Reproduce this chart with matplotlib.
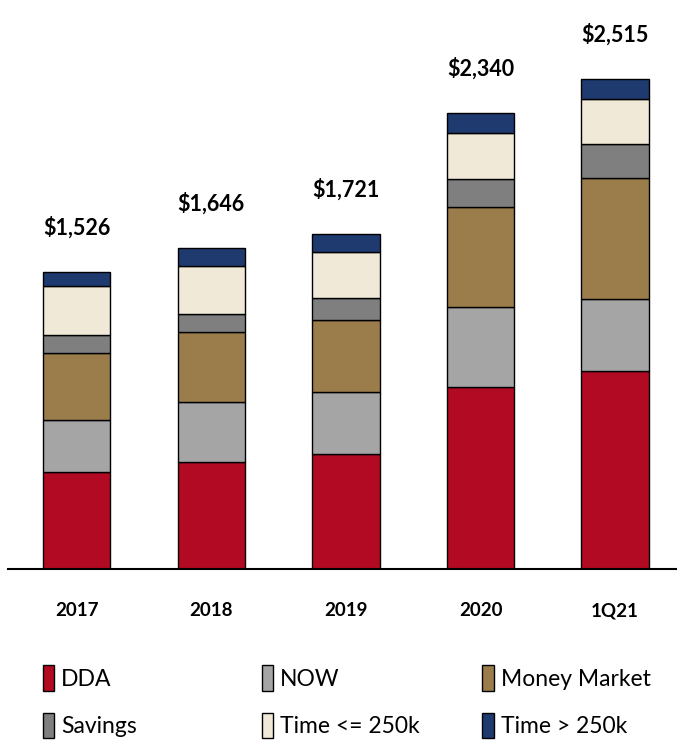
import matplotlib
matplotlib.use("Agg")
import matplotlib.pyplot as plt
import numpy as np

plt.rcParams['font.family'] = ['Lato', 'DejaVu Sans']

categories = ["2017", "2018", "2019", "2020", "1Q21"]
dda = [499, 551, 588, 934, 1016]
now = [265, 305, 320, 410, 371]
money_market = [345, 359, 372, 512, 617]
savings = [94, 94, 108, 146, 175]
time_le_250k = [248, 248, 236, 236, 233]
time_gt_250k = [75, 89, 97, 102, 103]
totals = [1526, 1646, 1721, 2340, 2515]
total_labels = ["$1,526", "$1,646", "$1,721", "$2,340", "$2,515"]

series = [
    ("DDA", dda, "#B30A24"),
    ("NOW", now, "#A5A5A5"),
    ("Money Market", money_market, "#9A7D4A"),
    ("Savings", savings, "#7F7F7F"),
    ("Time <= 250k", time_le_250k, "#F0E9D8"),
    ("Time > 250k", time_gt_250k, "#1E3A6E"),
]

fig = plt.figure(figsize=(6.77, 7.42), dpi=100)
ax = fig.add_axes([0.012, 0.233, 0.988, 0.767])

x = np.arange(len(categories))
bottom = np.zeros(len(categories))
handles = {}
for name, vals, color in series:
    b = ax.bar(x, vals, width=0.5, bottom=bottom, color=color,
               edgecolor="black", linewidth=1.0, label=name)
    handles[name] = b
    bottom += np.array(vals)

for xi, t, lab in zip(x, totals, total_labels):
    ax.annotate(lab, (xi, t), xytext=(0, 24), textcoords="offset points",
                ha="center", va="bottom", fontsize=15.5, fontweight="bold")

ax.set_xlim(-0.51, 4.46)
ax.set_ylim(0, 2919)
ax.set_xticks(x)
ax.set_xticklabels(categories, fontsize=13.5, fontweight="bold")
ax.tick_params(axis="x", length=0, pad=24)
ax.set_yticks([])
for s in ["top", "right", "left"]:
    ax.spines[s].set_visible(False)
ax.spines["bottom"].set_linewidth(1.5)
ax.spines["bottom"].set_color("black")

columns = [("DDA", "Savings"), ("NOW", "Time <= 250k"), ("Money Market", "Time > 250k")]
col_x = [0.060, 0.383, 0.709]
for names, cx in zip(columns, col_x):
    leg = fig.legend([handles[n] for n in names], list(names),
                     loc="lower left", bbox_to_anchor=(cx, 0.002),
                     frameon=False, fontsize=16.5, handlelength=0.5,
                     handleheight=1.35, handletextpad=0.3,
                     labelspacing=0.95, borderpad=0.1, borderaxespad=0.0)

fig.savefig("out.png", dpi=100)
